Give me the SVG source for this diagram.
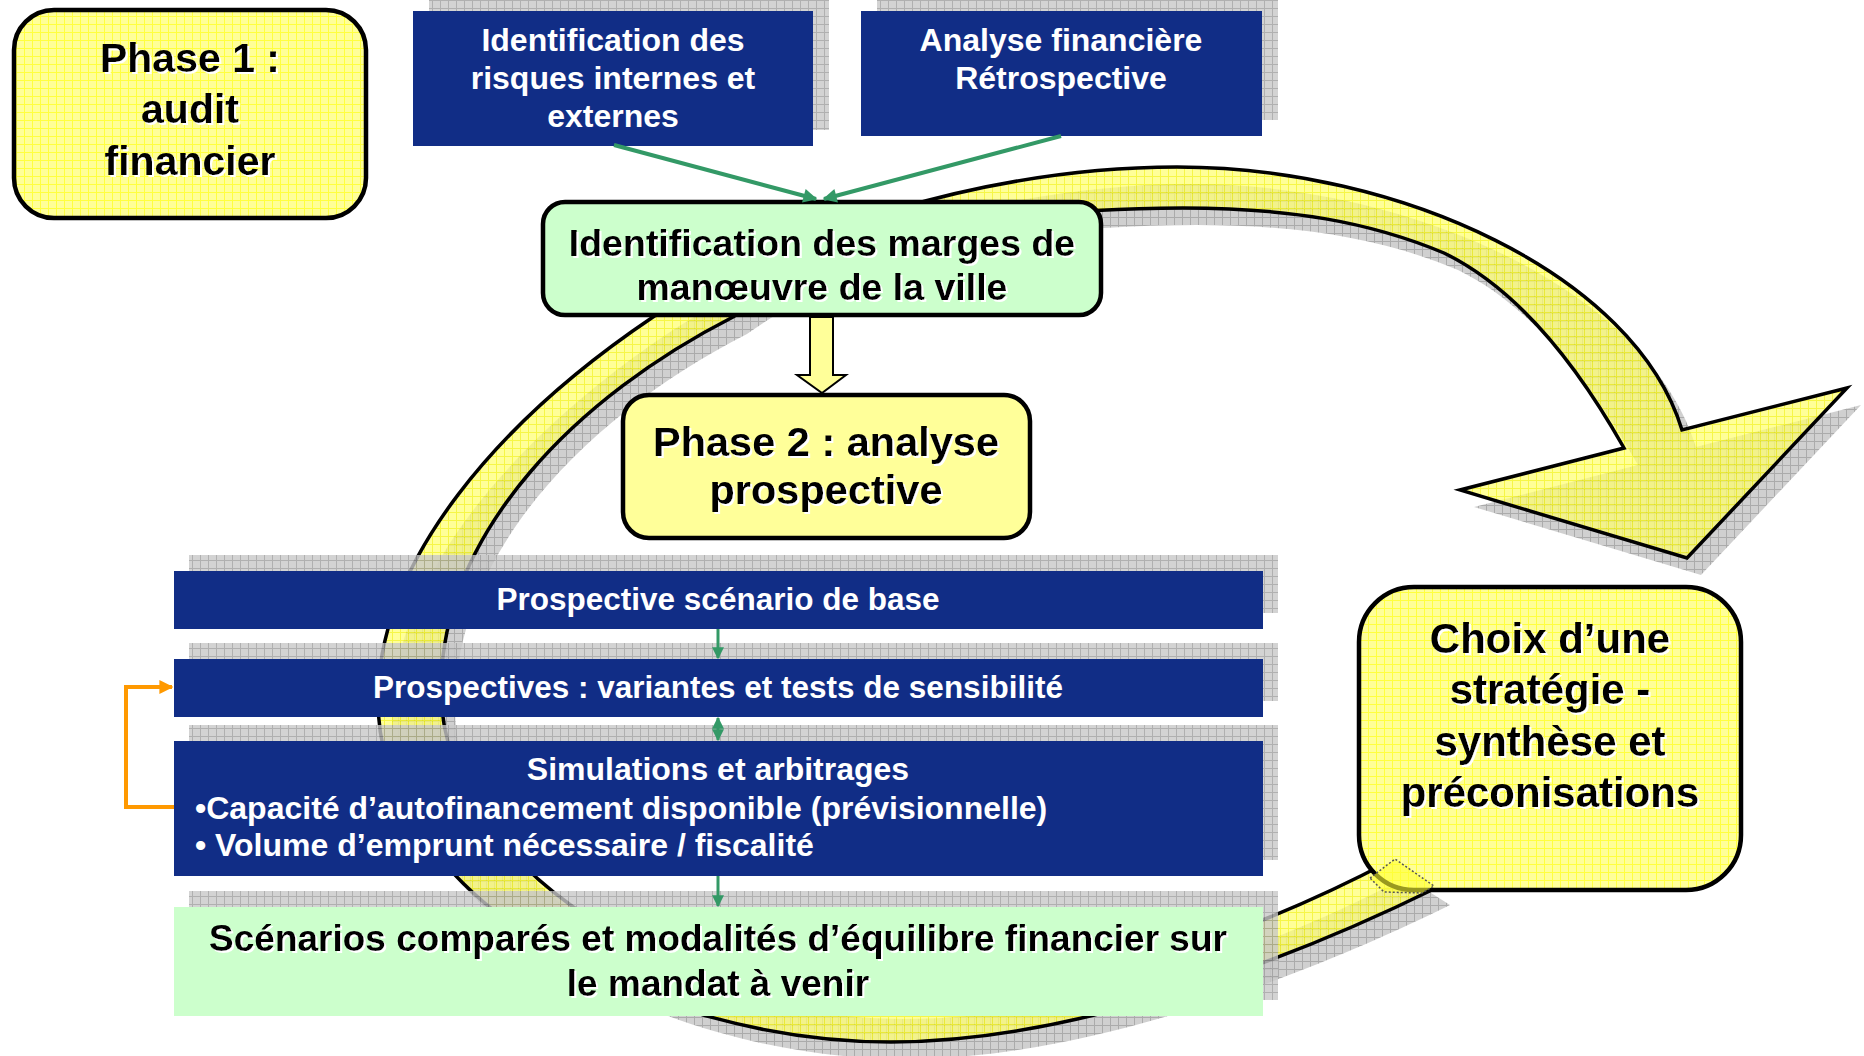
<svg xmlns="http://www.w3.org/2000/svg" width="1864" height="1056" viewBox="0 0 1864 1056">
  <defs>
    <style>
      .t { font-family: "Liberation Sans", Arial, sans-serif; font-weight: bold; text-anchor: middle; }
      .dark { fill: #000; }
      .light { fill: #fff; }
      .blue { fill: #112D86; }
      .shadow { fill: url(#gridShadow); opacity: 0.8; }
      .phase { stroke: #000; stroke-width: 4.5; }
      .link { stroke: #339966; stroke-width: 4; fill: none; }
      .link-s { stroke: #339966; stroke-width: 3; fill: none; }
    </style>
    <pattern id="gridY" width="8" height="8" patternUnits="userSpaceOnUse">
      <rect width="8" height="8" fill="#FFFF99"/>
      <path d="M0 .5H8M.5 0V8" stroke="#FFFF40" stroke-width="1"/>
    </pattern>
    <pattern id="gridRing" width="8" height="8" patternUnits="userSpaceOnUse">
      <rect width="8" height="8" fill="#FFFF70"/>
      <path d="M0 .5H8M.5 0V8" stroke="#F2F200" stroke-width="1"/>
    </pattern>
    <pattern id="gridShadow" width="8" height="8" patternUnits="userSpaceOnUse">
      <rect width="8" height="8" fill="#C8C8C8"/>
      <path d="M0 .5H8M.5 0V8" stroke="#9C9C9C" stroke-width="1"/>
    </pattern>
    <filter id="emboss" x="-5%" y="-10%" width="110%" height="130%">
      <feOffset in="SourceAlpha" dx="1.5" dy="1.5" result="off"/>
      <feFlood flood-color="#fff"/>
      <feComposite in2="off" operator="in" result="white"/>
      <feMerge>
        <feMergeNode in="white"/>
        <feMergeNode in="SourceGraphic"/>
      </feMerge>
    </filter>
    <marker id="headGreen" viewBox="0 0 10 10" refX="9" refY="5" markerWidth="16" markerHeight="14" markerUnits="userSpaceOnUse" orient="auto-start-reverse">
      <path d="M0,0 L10,5 L0,10 Z" fill="#339966"/>
    </marker>
    <marker id="headGreenS" viewBox="0 0 10 10" refX="9" refY="5" markerWidth="12" markerHeight="12" markerUnits="userSpaceOnUse" orient="auto-start-reverse">
      <path d="M0,0 L10,5 L0,10 Z" fill="#339966"/>
    </marker>
    <marker id="headOrange" viewBox="0 0 10 10" refX="9" refY="5" markerWidth="14" markerHeight="14" markerUnits="userSpaceOnUse" orient="auto">
      <path d="M0,0 L10,5 L0,10 Z" fill="#FF9900"/>
    </marker>
    <path id="ringShape" d="M1436,888 C1300,955 1080,1042 891,1042 C650,1042 378,900 378,700 C378,560 500,420 653,317 C780,232 990,167 1177,167 C1400,167 1635,275 1682,430 L1847,388 L1687,558 L1460,490 L1624,448 C1580,370 1520,290 1444,253 C1370,222 1290,208 1183,208 C1000,208 840,240 733,317 C580,395 441,530 441,690 C441,850 640,1002 891,1002 C1060,1002 1250,935 1392,860 Z"/>
  </defs>

  <rect width="1864" height="1056" fill="#fff"/>

  <!-- large circular arrow running round the process -->
  <g id="cycle-arrow">
    <use href="#ringShape" transform="translate(14,17)" fill="url(#gridShadow)" opacity="0.85"/>
    <use href="#ringShape" fill="url(#gridRing)" fill-opacity="0.72" stroke="#000" stroke-width="3.5" stroke-linejoin="miter"/>
  </g>

  <!-- phase 1 -->
  <g id="phase1">
    <rect class="phase" x="14" y="10" width="352" height="208" rx="40" fill="url(#gridY)"/>
    <g class="t dark" font-size="41" filter="url(#emboss)">
      <text x="190" y="72">Phase 1 :</text>
      <text x="190" y="123">audit</text>
      <text x="190" y="175">financier</text>
    </g>
  </g>

  <!-- audit inputs -->
  <g id="risques">
    <rect class="shadow" x="429" y="-5" width="400" height="135"/>
    <rect class="blue" x="413" y="11" width="400" height="135"/>
    <g class="t light" font-size="32">
      <text x="613" y="51">Identification des</text>
      <text x="613" y="89">risques internes et</text>
      <text x="613" y="127">externes</text>
    </g>
  </g>

  <g id="retrospective">
    <rect class="shadow" x="877" y="-5" width="401" height="125"/>
    <rect class="blue" x="861" y="11" width="401" height="125"/>
    <g class="t light" font-size="32">
      <text x="1061" y="51">Analyse financière</text>
      <text x="1061" y="89">Rétrospective</text>
    </g>
  </g>

  <!-- margins of manoeuvre -->
  <g id="marges">
    <rect x="543" y="202" width="558" height="113" rx="22" fill="#CCFFCC" stroke="#000" stroke-width="4.5"/>
    <g class="t dark" font-size="37.5" filter="url(#emboss)">
      <text x="822" y="256">Identification des marges de</text>
      <text x="822" y="300">manœuvre de la ville</text>
    </g>
  </g>

  <!-- phase 2 -->
  <g id="phase2">
    <rect class="phase" x="623" y="395" width="407" height="143" rx="26" fill="#FFFF99"/>
    <g class="t dark" font-size="41.5" filter="url(#emboss)">
      <text x="826" y="456">Phase 2 : analyse</text>
      <text x="826" y="504">prospective</text>
    </g>
  </g>

  <!-- prospective steps -->
  <g id="scenario-base">
    <rect class="shadow" x="189" y="555" width="1089" height="58"/>
    <rect class="blue" x="174" y="571" width="1089" height="58"/>
    <text class="t light" x="718" y="610" font-size="31.5">Prospective scénario de base</text>
  </g>

  <g id="variantes">
    <rect class="shadow" x="189" y="643" width="1089" height="58"/>
    <rect class="blue" x="174" y="659" width="1089" height="58"/>
    <text class="t light" x="718" y="698" font-size="31.5">Prospectives : variantes et tests de sensibilité</text>
  </g>

  <g id="simulations">
    <rect class="shadow" x="189" y="725" width="1089" height="135"/>
    <rect class="blue" x="174" y="741" width="1089" height="135"/>
    <g class="t light" font-size="32">
      <text x="718" y="780">Simulations et arbitrages</text>
      <text x="195" y="819" text-anchor="start">•Capacité d’autofinancement disponible (prévisionnelle)</text>
      <text x="195" y="856" text-anchor="start">• Volume d’emprunt nécessaire / fiscalité</text>
    </g>
  </g>

  <g id="scenarios-compares">
    <rect class="shadow" x="189" y="891" width="1089" height="109"/>
    <rect x="174" y="907" width="1089" height="109" fill="#CCFFCC"/>
    <g class="t dark" font-size="37" filter="url(#emboss)">
      <text x="718" y="951">Scénarios comparés et modalités d’équilibre financier sur</text>
      <text x="718" y="996">le mandat à venir</text>
    </g>
  </g>

  <!-- strategy choice -->
  <g id="choix">
    <rect class="phase" x="1359" y="587" width="382" height="303" rx="55" fill="url(#gridY)"/>
    <polygon points="1370,878 1395,859 1434,886 1422,893 1384,892" fill="#FFFF33" fill-opacity="0.6" stroke="#555" stroke-width="1.5" stroke-dasharray="2,2"/>
    <g class="t dark" font-size="42" filter="url(#emboss)">
      <text x="1550" y="653">Choix d’une</text>
      <text x="1550" y="704">stratégie -</text>
      <text x="1550" y="756">synthèse et</text>
      <text x="1550" y="807">préconisations</text>
    </g>
  </g>

  <!-- connectors -->
  <g id="connectors">
    <line class="link" x1="614" y1="145" x2="816" y2="199" marker-end="url(#headGreen)"/>
    <line class="link" x1="1061" y1="136" x2="824" y2="199" marker-end="url(#headGreen)"/>
    <path d="M810,317 V375 H797 L822,393 L846,375 H833 V317 Z" fill="#FFFF99" stroke="#000" stroke-width="2"/>
    <line class="link-s" x1="718" y1="629" x2="718" y2="658" marker-end="url(#headGreenS)"/>
    <line class="link-s" x1="718" y1="718" x2="718" y2="740" marker-start="url(#headGreenS)" marker-end="url(#headGreenS)"/>
    <line class="link-s" x1="718" y1="876" x2="718" y2="906" marker-end="url(#headGreenS)"/>
    <path d="M174,807 H126 V687 H172" fill="none" stroke="#FF9900" stroke-width="4" marker-end="url(#headOrange)"/>
  </g>
</svg>
